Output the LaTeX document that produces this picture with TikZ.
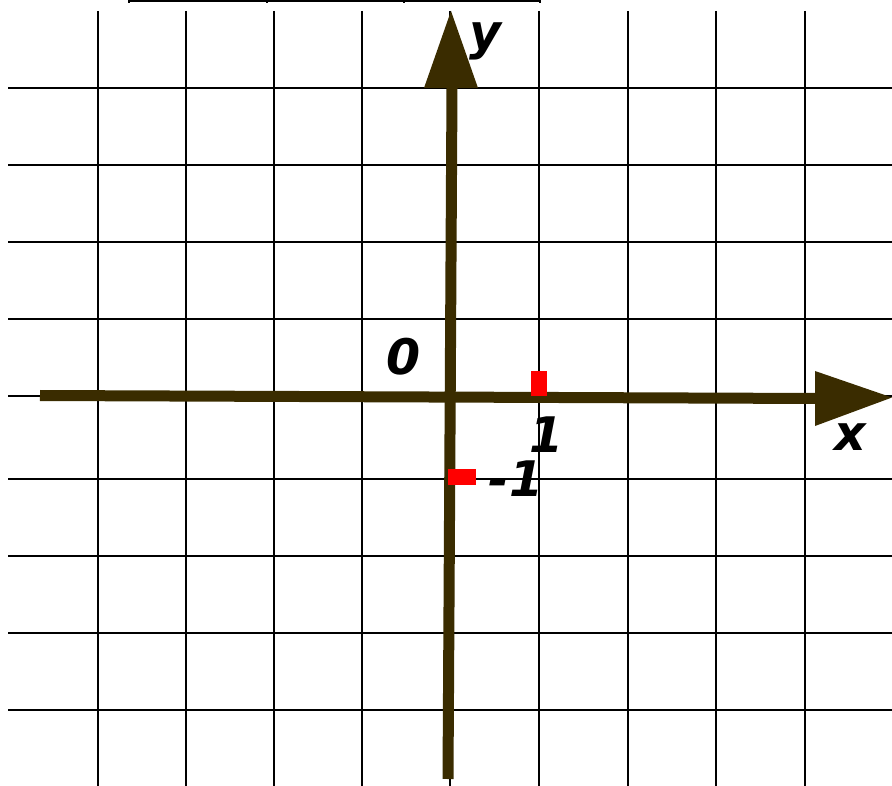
\documentclass[tikz,border=0pt]{standalone}
\usepackage{fontspec}
\setmainfont{DejaVu Sans}
\definecolor{axisbrown}{HTML}{3A2C00}
\definecolor{tickred}{HTML}{FF0000}
\begin{document}
\begin{tikzpicture}[x=1pt,y=-1pt,
  gridline/.style={black,line width=2.4pt},
  axisline/.style={axisbrown,line width=11pt},
  arrowhead/.style={fill=axisbrown,draw=none},
  mark red/.style={fill=tickred,draw=none},
  lbl/.style={font=\fontsize{49}{52}\selectfont\bfseries\itshape,inner sep=0pt,anchor=base}]
\useasboundingbox (0,0) rectangle (892,786);
% top line
\draw[black,line width=2pt] (129,1) -- (540,1);
\foreach \x in {129,267,404,540} \draw[black,line width=1.5pt] (\x,0) -- (\x,3);
% vertical grid lines
\foreach \x in {98,186,274,362,450,539,628,716,805}
  \draw[gridline] (\x,11) -- (\x,786);
% horizontal grid lines
\foreach \y in {88,165,242,319,396,479,556,633,710}
  \draw[gridline] (8,\y) -- (892,\y);
% axes
\coordinate (xs) at (40,395.5);
\coordinate (xe) at (818,398.5);
\coordinate (ys) at (448,779);
\coordinate (ye) at (452,88);
\draw[axisline] (xs) -- (xe);
\draw[axisline] (ys) -- (ye);
\fill[arrowhead] (815,371) -- (892,397.5) -- (815,426) -- cycle;
\fill[arrowhead] (424,88) -- (451,11) -- (478,88) -- cycle;
% red marks
\fill[mark red] (531,371) rectangle (547,396);
\fill[mark red] (448,469) rectangle (476,485);
% labels
\node[lbl] (o) at (404,375) {0};
\node[lbl] (one) at (547,452) {1};
\node[lbl] (mone) at (516,496) {-1};
\node[lbl] (xl) at (850,450) {x};
\node[lbl] (yl) at (485,50) {y};
\end{tikzpicture}
\end{document}
